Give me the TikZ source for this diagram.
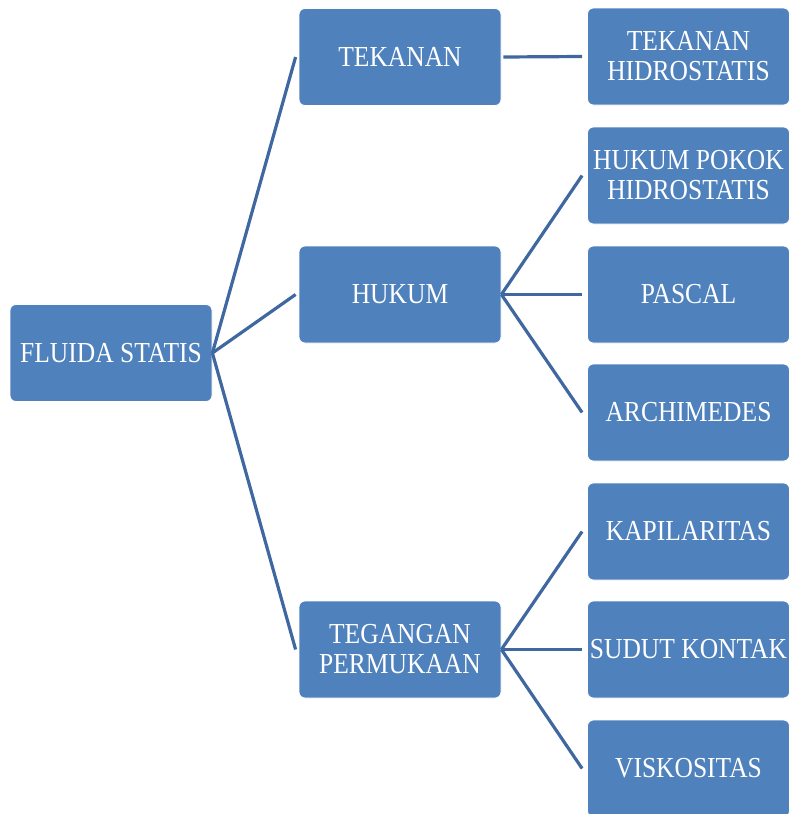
\documentclass[tikz,border=0pt]{standalone}
\usepackage{fontspec}
\setmainfont{Liberation Serif}[FakeStretch=0.88]
\definecolor{boxblue}{RGB}{79,129,189}
\definecolor{linkblue}{RGB}{64,104,160}
\begin{document}
\begin{tikzpicture}[x=1pt,y=-1pt,
  box/.style={draw=white, line width=0.8pt, fill=boxblue, rounded corners=6pt,
    minimum width=202pt, minimum height=97pt, inner sep=0pt, text=white,
    align=center, font=\fontsize{29}{30}\selectfont},
  link/.style={draw=linkblue, line width=3.2pt}]
\useasboundingbox (0,0) rectangle (791,814);
\node[box] (fs) at (111,353) {FLUIDA STATIS};
\node[box] (tk) at (400,57) {TEKANAN};
\node[box] (hk) at (400,294.5) {HUKUM};
\node[box] (tg) at (400,649.5) {TEGANGAN\\PERMUKAAN};
\node[box] (th) at (688.5,56.5) {TEKANAN\\HIDROSTATIS};
\node[box] (hp) at (688.5,175.5) {HUKUM POKOK\\HIDROSTATIS};
\node[box] (ps) at (688.5,294.5) {PASCAL};
\node[box] (ar) at (688.5,412.5) {ARCHIMEDES};
\node[box] (kp) at (688.5,531.5) {KAPILARITAS};
\node[box] (sk) at (688.5,649.5) {SUDUT KONTAK};
\node[box] (vs) at (688.5,768.5) {VISKOSITAS};
\draw[link] (fs.east) -- ([xshift=-3pt]tk.west);
\draw[link] (fs.east) -- ([xshift=-3pt]hk.west);
\draw[link] (fs.east) -- ([xshift=-3pt]tg.west);
\draw[link] ([xshift=2pt]tk.east) -- ([xshift=-5pt]th.west);
\draw[link] (hk.east) -- ([xshift=-5pt]hp.west);
\draw[link] (hk.east) -- ([xshift=-5pt]ps.west);
\draw[link] (hk.east) -- ([xshift=-5pt]ar.west);
\draw[link] (tg.east) -- ([xshift=-5pt]kp.west);
\draw[link] (tg.east) -- ([xshift=-5pt]sk.west);
\draw[link] (tg.east) -- ([xshift=-5pt]vs.west);
\end{tikzpicture}
\end{document}
